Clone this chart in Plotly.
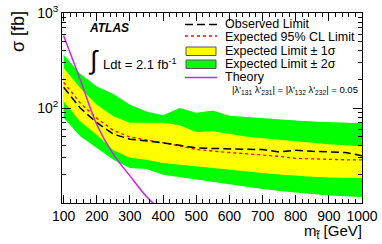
import plotly.graph_objects as go

# ---------------- data ----------------
masses = [100, 150, 200, 250, 300, 350, 400, 450, 500, 550, 600, 650, 700, 750, 800, 850, 900, 950, 1000]
observed = [165, 100, 70, 53, 47, 45, 43, 40.5, 38, 37.5, 37, 37, 36.5, 34.5, 36, 35, 34.5, 34, 31.5]
expected = [186, 113, 78, 58, 49.5, 46, 43.5, 40, 36.5, 35, 34, 33, 32.2, 31, 29.5, 29, 28.5, 28.5, 28.5]
plus1 = [264, 162, 108, 82, 70, 70, 70, 66, 56, 57, 53, 50, 48, 46, 44.5, 43, 41.5, 40.5, 39.5]
minus1 = [117, 72, 52, 36, 30, 28.6, 26.4, 25.3, 24.3, 23.3, 22.4, 21.5, 20.7, 20, 19.4, 18.9, 18.6, 18.4, 18.3]
plus2 = [364, 230, 168, 140, 108, 92, 84, 100, 89, 94, 83, 81, 78, 76, 74, 72, 71, 70, 69]
minus2 = [79, 50.5, 38, 28.6, 23.3, 22.8, 19.8, 18.7, 17.6, 16.6, 15.6, 14.8, 14, 13.4, 12.9, 12.4, 12, 11.8, 11.6]
theory_m = [100, 150, 200, 250, 300, 350, 400]
theory = [575, 200, 67, 32.5, 19.3, 11.7, 8.0]

x_ticks = [100, 200, 300, 400, 500, 600, 700, 800, 900, 1000]
y_ticks = [100, 1000]
y_ticktext = ["10<sup>2</sup>", "10<sup>3</sup>"]

FONT = "Liberation Sans, Arial, Helvetica, sans-serif"
GREEN = "#00ff00"
YELLOW = "#ffff00"
MAGENTA = "#cc22ee"

fig = go.Figure()
# 2 sigma band
fig.add_trace(go.Scatter(x=masses, y=minus2, mode="lines", line=dict(width=0, color=GREEN),
                         showlegend=False, hoverinfo="skip"))
fig.add_trace(go.Scatter(x=masses, y=plus2, mode="lines", line=dict(width=0, color=GREEN),
                         fill="tonexty", fillcolor=GREEN, name="Expected Limit ± 2σ", showlegend=False))
# 1 sigma band
fig.add_trace(go.Scatter(x=masses, y=minus1, mode="lines", line=dict(width=0, color=YELLOW),
                         showlegend=False, hoverinfo="skip"))
fig.add_trace(go.Scatter(x=masses, y=plus1, mode="lines", line=dict(width=0, color=YELLOW),
                         fill="tonexty", fillcolor=YELLOW, name="Expected Limit ± 1σ", showlegend=False))
fig.add_trace(go.Scatter(x=masses, y=expected, mode="lines", line=dict(color="red", width=1.3, dash="dot"),
                         name="Expected 95% CL Limit", showlegend=False))
fig.add_trace(go.Scatter(x=masses, y=observed, mode="lines", line=dict(color="black", width=1.5, dash="8px,4px"),
                         name="Observed Limit", showlegend=False))
fig.add_trace(go.Scatter(x=theory_m, y=theory, mode="lines", line=dict(color=MAGENTA, width=1.5, shape="spline"),
                         name="Theory", showlegend=False))

# plot area in pixels: x 62..362, y 13..203
L, R, T, B = 62, 362, 13, 203
def px(x):
    return (x - L) / (R - L)
def py(y):
    return (B - y) / (B - T)

shapes = []
# legend symbols
shapes.append(dict(type="line", xref="paper", yref="paper", x0=px(185), x1=px(217), y0=py(24.5), y1=py(24.5),
                   line=dict(color="black", width=1.5, dash="8px,4px")))
shapes.append(dict(type="line", xref="paper", yref="paper", x0=px(185), x1=px(217), y0=py(36), y1=py(36),
                   line=dict(color="red", width=1.3, dash="dot")))
shapes.append(dict(type="rect", xref="paper", yref="paper", x0=px(186), x1=px(216), y0=py(55.5), y1=py(47),
                   fillcolor=YELLOW, line=dict(color="#555555", width=1)))
shapes.append(dict(type="rect", xref="paper", yref="paper", x0=px(186), x1=px(216), y0=py(68.5), y1=py(60),
                   fillcolor=GREEN, line=dict(color="#555555", width=1)))
shapes.append(dict(type="line", xref="paper", yref="paper", x0=px(185), x1=px(217), y0=py(77.5), y1=py(77.5),
                   line=dict(color=MAGENTA, width=1.5)))

ann = []
def text(x, y, s, size, xanchor="left", **kw):
    ann.append(dict(xref="paper", yref="paper", x=px(x), y=py(y), text=s, showarrow=False,
                    xanchor=xanchor, yanchor="middle", font=dict(family=FONT, size=size, color="black"), **kw))

text(223, 24.5, "Observed Limit", 12.5)
text(223, 36.5, "Expected 95% CL Limit", 12.5)
text(223, 51.5, "Expected Limit ± 1σ", 12.5)
text(223, 64, "Expected Limit ± 2σ", 12.5)
text(223, 77.5, "Theory", 12.5)
text(230, 89.5, "|λ'<sub>131</sub> λ'<sub>231</sub>| = |λ'<sub>132</sub> λ'<sub>232</sub>| = 0.05", 9.5)
text(87, 28, "<b><i>ATLAS</i></b>", 12)
text(86, 60, "∫", 26)
text(101, 63.5, "Ldt = 2.1 fb<sup>-1</sup>", 13)
# axis titles
ann.append(dict(xref="paper", yref="paper", x=px(18), y=py(32), text="σ [fb]", showarrow=False, textangle=-90,
                xanchor="center", yanchor="middle", font=dict(family=FONT, size=18, color="black")))
ann.append(dict(xref="paper", yref="paper", x=px(364), y=py(231.5), text="m<sub>t̃</sub> [GeV]", showarrow=False,
                xanchor="right", yanchor="middle", font=dict(family=FONT, size=15, color="black")))

fig.update_layout(
    width=382, height=244,
    margin=dict(l=L, r=382 - R, t=T, b=244 - B, autoexpand=False),
    paper_bgcolor="white", plot_bgcolor="white",
    showlegend=False,
    shapes=shapes, annotations=ann,
    font=dict(family=FONT, color="black"),
)
fig.update_xaxes(range=[95, 1000], tickmode="array", tickvals=x_ticks, ticks="inside", ticklen=8,
                 tickcolor="black", showline=True, linecolor="black", linewidth=1, mirror="allticks",
                 showgrid=False, zeroline=False, tickfont=dict(size=14, family=FONT), automargin=False,
                 ticklabeloverflow="allow",
                 minor=dict(tickmode="linear", tick0=100, dtick=20, ticks="inside", ticklen=4, tickcolor="black",
                            showgrid=False))
fig.update_yaxes(type="log", range=[1, 3], tickmode="array", tickvals=y_ticks, ticktext=y_ticktext,
                 ticks="inside", ticklen=9, tickcolor="black", showline=True, linecolor="black", linewidth=1,
                 mirror="allticks", showgrid=False, zeroline=False, tickfont=dict(size=14, family=FONT),
                 automargin=False, ticklabeloverflow="allow",
                 minor=dict(tickmode="array", tickvals=[20, 30, 40, 50, 60, 70, 80, 90, 200, 300, 400, 500, 600, 700, 800, 900],
                            ticks="inside", ticklen=4, tickcolor="black", showgrid=False))

fig.write_html("out.html", config={"displayModeBar": False},
               post_script="document.body.style.margin='0';document.body.style.overflow='hidden';")
